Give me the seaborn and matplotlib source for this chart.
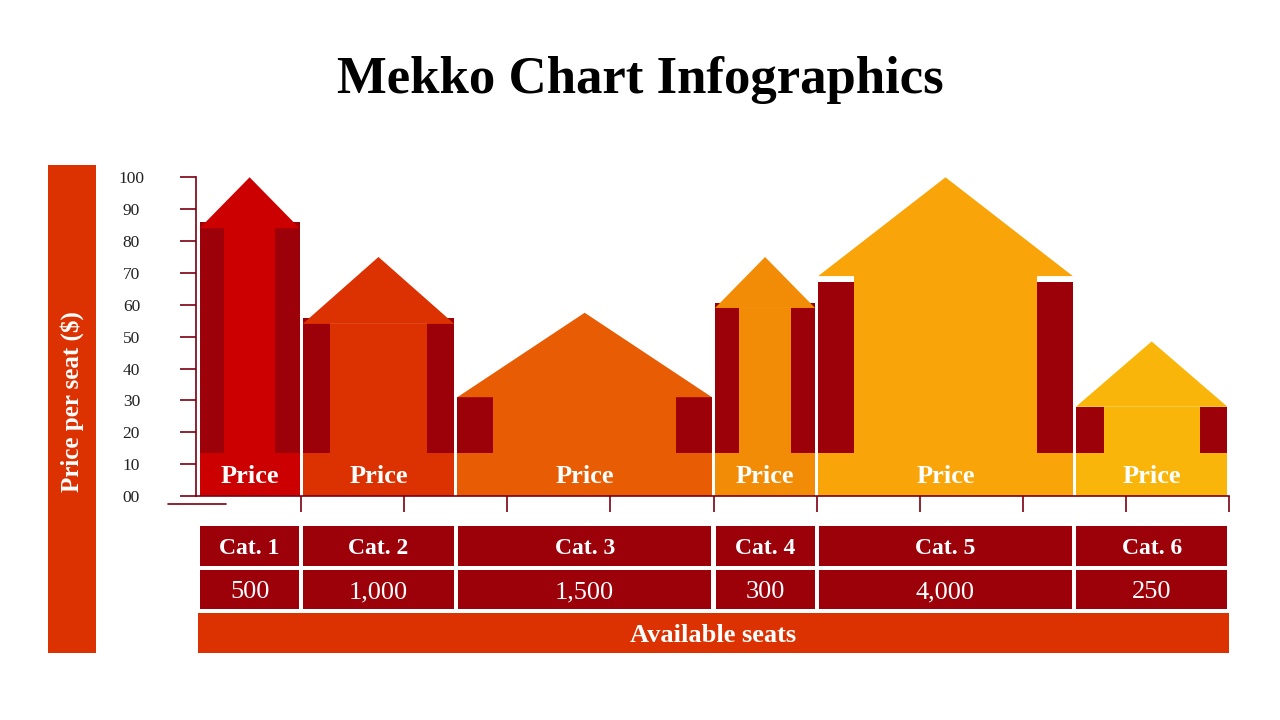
import matplotlib
matplotlib.use('Agg')
import matplotlib.pyplot as plt
import seaborn as sns
from matplotlib.patches import Rectangle
from matplotlib.lines import Line2D

# data
categories = ["Cat. 1", "Cat. 2", "Cat. 3", "Cat. 4", "Cat. 5", "Cat. 6"]
seats = [500, 1000, 1500, 300, 4000, 250]
widths = [1, 1.5, 2.5, 1, 2.5, 1.5]          # column widths on the seat axis
peaks = [100, 75, 57.5, 75, 100, 48.5]       # roof tip = price
roof_base = [84, 54, 31, 59, 69, 28]
wall_top = [86, 56, 31, 60.5, 67, 28]
wall_w = [0.24, 0.26, 0.35, 0.23, 0.35, 0.27]
price_band = 13.6
y_ticks = list(range(0, 101, 10))
y_labels = ["00"] + [str(v) for v in y_ticks[1:]]

house_colors = ["#CC0000", "#DC3100", "#E85D04", "#F28C06", "#F9A408", "#F9B50A"]
dark = "#9C0009"
band_orange = "#DC3100"
line_col = "#7A0010"

sns.set_theme(style="white")
plt.rcParams['font.family'] = ['Liberation Serif', 'DejaVu Serif']

W, H = 1280, 720
fig = plt.figure(figsize=(12.8, 7.2), dpi=100)


def px_box(x0, y0, x1, y1):
    """figure rect from pixel box (top-left origin)"""
    return [x0 / W, 1 - y1 / H, (x1 - x0) / W, (y1 - y0) / H]


# main chart area
ax = fig.add_axes(px_box(196, 177.3, 1229, 496))
ax.set_xlim(-0.02, 10)
ax.set_ylim(0, 100)
ax.patch.set_alpha(0)

lefts = [sum(widths[:i]) for i in range(len(widths))]
gap = 0.015
for i, cat in enumerate(categories):
    l = lefts[i] + gap
    r = lefts[i] + widths[i] - gap
    w = r - l
    mid = (l + r) / 2
    col = house_colors[i]
    # price band at the bottom
    ax.bar(l, price_band, width=w, bottom=0, align='edge', color=col, linewidth=0)
    # center column
    ax.bar(l + wall_w[i], roof_base[i] - price_band, width=w - 2 * wall_w[i],
           bottom=price_band, align='edge', color=col, linewidth=0)
    # dark side walls
    ax.bar([l, r - wall_w[i]], wall_top[i] - price_band, width=wall_w[i],
           bottom=price_band, align='edge', color=dark, linewidth=0)
    # roof
    ax.fill([l, mid, r], [roof_base[i], peaks[i], roof_base[i]], color=col, linewidth=0)
    ax.text(mid, price_band / 2 - 0.6, "Price", ha='center', va='center',
            color='white', fontsize=19, fontweight='bold')

sns.despine(ax=ax)
for side in ['left', 'bottom']:
    ax.spines[side].set_color(line_col)
    ax.spines[side].set_linewidth(1.2)
ax.set_yticks(y_ticks)
ax.set_yticklabels(y_labels, ha='center', fontsize=12.5, color='#222222')
ax.set_xticks(range(1, 11))
ax.set_xticklabels([])
ax.tick_params(axis='y', left=True, direction='out', length=11.5, width=1.2,
               color=line_col, pad=35)
ax.tick_params(axis='x', bottom=True, direction='out', length=11.5, width=1.2,
               color=line_col)
ax.grid(False)

# small decorative rule under the origin
fig.add_artist(Line2D([168 / W, 226 / W], [1 - 504 / H, 1 - 504 / H],
                      color=line_col, linewidth=1.2))

# table with categories and seats
axt = fig.add_axes(px_box(196, 526, 1229, 653))
axt.set_xlim(-0.02, 10)
axt.set_ylim(127, 0)
axt.axis('off')
cg = 0.02
for i, cat in enumerate(categories):
    l = lefts[i] + cg
    r = lefts[i] + widths[i] - cg
    axt.bar(l, 40, width=r - l, bottom=0, align='edge', color=dark, linewidth=0)
    axt.bar(l, 39, width=r - l, bottom=44, align='edge', color=dark, linewidth=0)
    axt.text((l + r) / 2, 23, cat, ha='center', va='center', color='white',
             fontsize=17, fontweight='bold')
    axt.text((l + r) / 2, 66, f"{seats[i]:,}", ha='center', va='center',
             color='white', fontsize=19)
axt.bar(0, 40, width=10, bottom=87, align='edge', color=band_orange, linewidth=0)
axt.text(5, 109, "Available seats", ha='center', va='center', color='white',
         fontsize=19, fontweight='bold')

# left vertical label band
fig.add_artist(Rectangle((48 / W, 1 - 653 / H), 48 / W, 488 / H,
                         transform=fig.transFigure, color=band_orange, linewidth=0))
fig.text(72 / W, 1 - 402 / H, "Price per seat ($)", rotation=90, ha='center',
         va='center', color='white', fontsize=18, fontweight='bold')

fig.text(0.5, 1 - 93 / H, "Mekko Chart Infographics", ha='center', va='baseline',
         fontsize=38, fontweight='bold', color='black')

fig.savefig("out.png", dpi=100)
